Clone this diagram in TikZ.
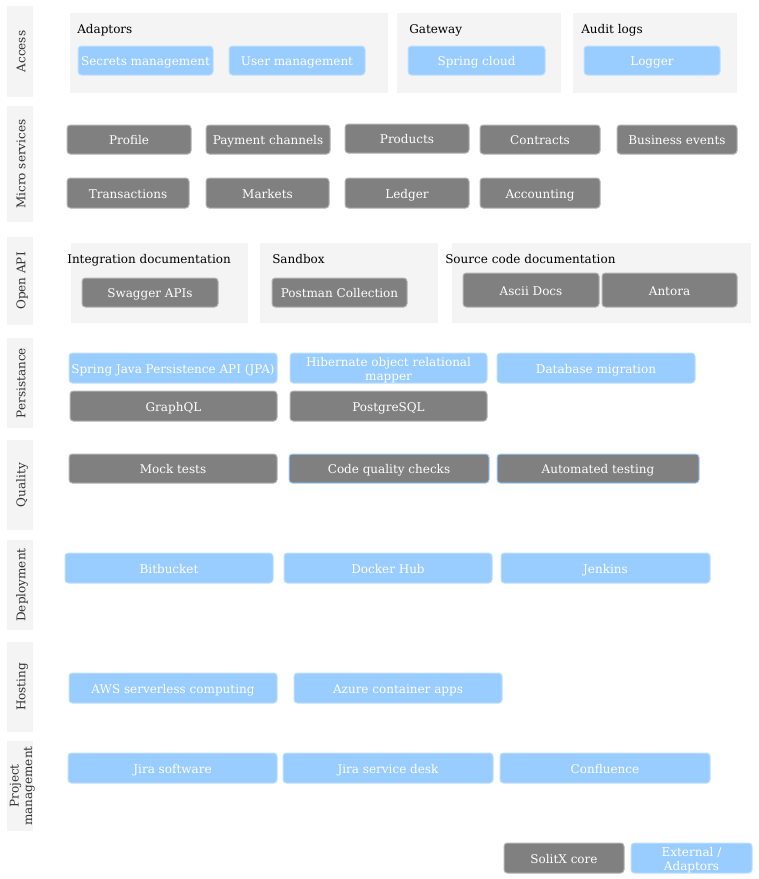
\documentclass[tikz,border=0pt]{standalone}
\usepackage{fontspec}
\setmainfont{DejaVu Serif}
\definecolor{gfill}{HTML}{808080}
\definecolor{gline}{HTML}{B3B3B3}
\definecolor{bfill}{HTML}{99CCFF}
\definecolor{bline}{HTML}{BFDFFF}
\definecolor{panel}{HTML}{F4F4F4}
\definecolor{labtxt}{HTML}{333333}
\tikzset{
  txt/.style={text height=8pt, text depth=0pt, font=\fontsize{9}{10}\selectfont},
  two/.style={text height=18pt, text depth=0pt},
  gbox/.style={txt, draw=gline, fill=gfill, line width=0.75pt, rounded corners=2.5pt, text=white, inner sep=0pt, align=center},
  bbox/.style={txt, draw=bline, fill=bfill, line width=0.75pt, rounded corners=2.5pt, text=white, inner sep=0pt, align=center},
  gbboxb/.style={gbox, draw=bfill},
  contbox/.style={fill=panel, draw=none, inner sep=0pt},
  sidebox/.style={txt, fill=panel, draw=none, inner sep=0pt, text=labtxt, align=center, rotate=90},
  ttl/.style={txt, anchor=west, inner sep=0pt, text=black}
}
\newcommand\bx[7]{\node[#2, minimum width={(#5-#3)*0.75pt}, minimum height={(#6-#4)*0.75pt}] (#1) at ({(#3+#5)/2},{(#4+#6)/2}) {#7};}
\newcommand\sidelab[5][]{\node[sidebox, #1, minimum width={(#4-#3)*0.75pt}, minimum height={26*0.75pt}] (#2) at (20,{(#3+#4)/2}) {#5};}
\begin{document}
\begin{tikzpicture}[x=0.75pt, y=-0.75pt]
\useasboundingbox (0,0) rectangle (758,879);
% side labels
\sidelab{sAccess}{6}{97}{Access}
\sidelab{sMicro}{106}{222}{Micro services}
\sidelab{sOpen}{237}{325}{Open API}
\sidelab{sPers}{338}{428}{Persistance}
\sidelab{sQual}{440}{530}{Quality}
\sidelab{sDep}{540}{630}{Deployment}
\sidelab{sHost}{642}{732}{Hosting}
\sidelab[two]{sPM}{741}{831}{Project\\management}
% Access
\bx{cAdapt}{contbox}{70}{13}{388}{93}{}
\node[ttl] (tAdapt) at (77,28) {Adaptors};
\bx{secrets}{bbox}{78}{46}{213}{75}{Secrets management}
\bx{usermgmt}{bbox}{229}{46}{365}{75}{User management}
\bx{cGate}{contbox}{397}{13}{561}{93}{}
\node[ttl] (tGate) at (409,28) {Gateway};
\bx{spring}{bbox}{408}{46}{545}{75}{Spring cloud}
\bx{cAudit}{contbox}{573}{13}{737}{93}{}
\node[ttl] (tAudit) at (581,28) {Audit logs};
\bx{logger}{bbox}{584}{46}{720}{75}{Logger}
% Micro services
\bx{profile}{gbox}{67}{125}{191}{154}{Profile}
\bx{payment}{gbox}{206}{125}{330}{154}{Payment channels}
\bx{products}{gbox}{345}{124}{469}{153}{Products}
\bx{contracts}{gbox}{480}{125}{600}{154}{Contracts}
\bx{business}{gbox}{617}{125}{737}{154}{Business events}
\bx{transactions}{gbox}{67}{178}{189}{208}{Transactions}
\bx{markets}{gbox}{206}{178}{329}{208}{Markets}
\bx{ledger}{gbox}{345}{178}{469}{208}{Ledger}
\bx{accounting}{gbox}{480}{178}{600}{208}{Accounting}
% Open API
\bx{cInteg}{contbox}{71}{243}{248}{323}{}
\node[ttl] (tInteg) at (67,258) {Integration documentation};
\bx{swagger}{gbox}{82}{278}{218}{307}{Swagger APIs}
\bx{cSand}{contbox}{260}{243}{438}{323}{}
\node[ttl] (tSand) at (272,258) {Sandbox};
\bx{postman}{gbox}{272}{278}{407}{307}{Postman Collection}
\bx{cSrc}{contbox}{452}{243}{751}{323}{}
\node[ttl] (tSrc) at (445,258) {Source code documentation};
\bx{ascii}{gbox}{463}{273}{599}{307}{Ascii Docs}
\bx{antora}{gbox}{602}{273}{737}{307}{Antora}
% Persistance
\bx{jpa}{bbox}{69}{353}{277}{383}{Spring Java Persistence API (JPA)}
\bx{hibernate}{bbox,two}{290}{353}{487}{383}{Hibernate object relational\\mapper}
\bx{dbmig}{bbox}{497}{353}{695}{383}{Database migration}
\bx{graphql}{gbox}{70}{391}{277}{421}{GraphQL}
\bx{postgres}{gbox}{290}{391}{487}{421}{PostgreSQL}
% Quality
\bx{mock}{gbox}{69}{454}{277}{483}{Mock tests}
\bx{codeq}{gbboxb}{289}{454}{489}{483}{Code quality checks}
\bx{autotest}{gbboxb}{497}{454}{699}{483}{Automated testing}
% Deployment
\bx{bitbucket}{bbox}{65}{553}{273}{583}{Bitbucket}
\bx{dockerhub}{bbox}{284}{553}{492}{583}{Docker Hub}
\bx{jenkins}{bbox}{501}{553}{710}{583}{Jenkins}
% Hosting
\bx{aws}{bbox}{69}{673}{277}{703}{AWS serverless computing}
\bx{azure}{bbox}{294}{673}{502}{703}{Azure container apps}
% Project management
\bx{jira}{bbox}{68}{753}{277}{783}{Jira software}
\bx{jirasd}{bbox}{283}{753}{493}{783}{Jira service desk}
\bx{confluence}{bbox}{500}{753}{710}{783}{Confluence}
% Legend
\bx{core}{gbox}{504}{843}{624}{873}{SolitX core}
\bx{external}{bbox,two}{631}{843}{752}{873}{External /\\Adaptors}
\end{tikzpicture}
\end{document}
